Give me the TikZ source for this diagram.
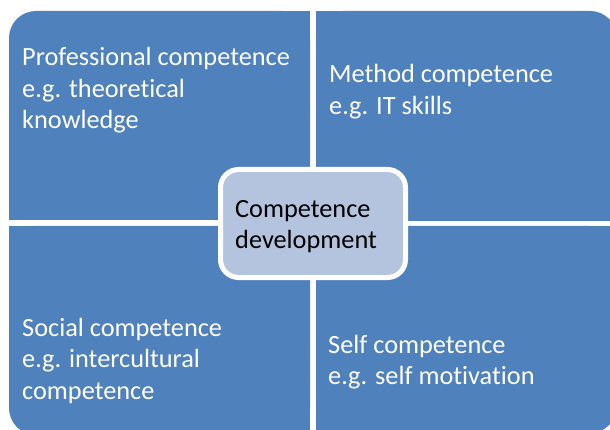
\documentclass[tikz,border=0pt]{standalone}
\usepackage{fontspec}
\setmainfont{Carlito}[Ligatures=NoCommon]
\definecolor{quadblue}{HTML}{4F81BD}
\definecolor{centerfill}{HTML}{B4C4DE}
\begin{document}
\begin{tikzpicture}[x=1pt,y=-1pt,
  quad/.style={fill=quadblue},
  lbl/.style={anchor=base west, inner sep=0pt, align=left, text=white,
    font=\fontsize{26.3}{31.5}\selectfont},
  clbl/.style={lbl, text=black},
  cbox/.style={draw=white, line width=5pt, fill=centerfill, rounded corners=18pt,
    minimum width=185pt, minimum height=108pt, inner sep=0pt},
]
\useasboundingbox (0,0) rectangle (610,430);
\clip (0,0) rectangle (610,430);
\fill[white] (0,0) rectangle (610,430);
% top left
\fill[quad, rounded corners=27pt] (9,11) rectangle (310,220);
\fill[quad] (9,40) rectangle (310,220);
\fill[quad] (40,11) rectangle (310,220);
% top right
\fill[quad, rounded corners=27pt] (316,11) rectangle (617,221);
\fill[quad] (316,40) rectangle (617,221);
\fill[quad] (316,11) rectangle (585,221);
% bottom left
\fill[quad, rounded corners=27pt] (9,226) rectangle (310,435);
\fill[quad] (9,226) rectangle (310,405);
\fill[quad] (40,226) rectangle (310,435);
% bottom right
\fill[quad, rounded corners=27pt] (316,226) rectangle (617,433);
\fill[quad] (316,226) rectangle (617,403);
\fill[quad] (316,226) rectangle (585,433);
% labels (anchored at the baseline of the last line)
\node[lbl] (prof) at (22,129) {Professional competence\\e.g. theoretical\\knowledge};
\node[lbl] (meth) at (329,114.5) {Method competence\\e.g. IT skills};
\node[lbl] (soc) at (22,399) {Social competence\\e.g. intercultural\\competence};
\node[lbl] (self) at (328,384.5) {Self competence\\e.g. self motivation};
% centre
\node[cbox] (centre) at (313,223.5) {};
\node[clbl] (ctext) at (235,249) {Competence\\development};
\end{tikzpicture}
\end{document}
